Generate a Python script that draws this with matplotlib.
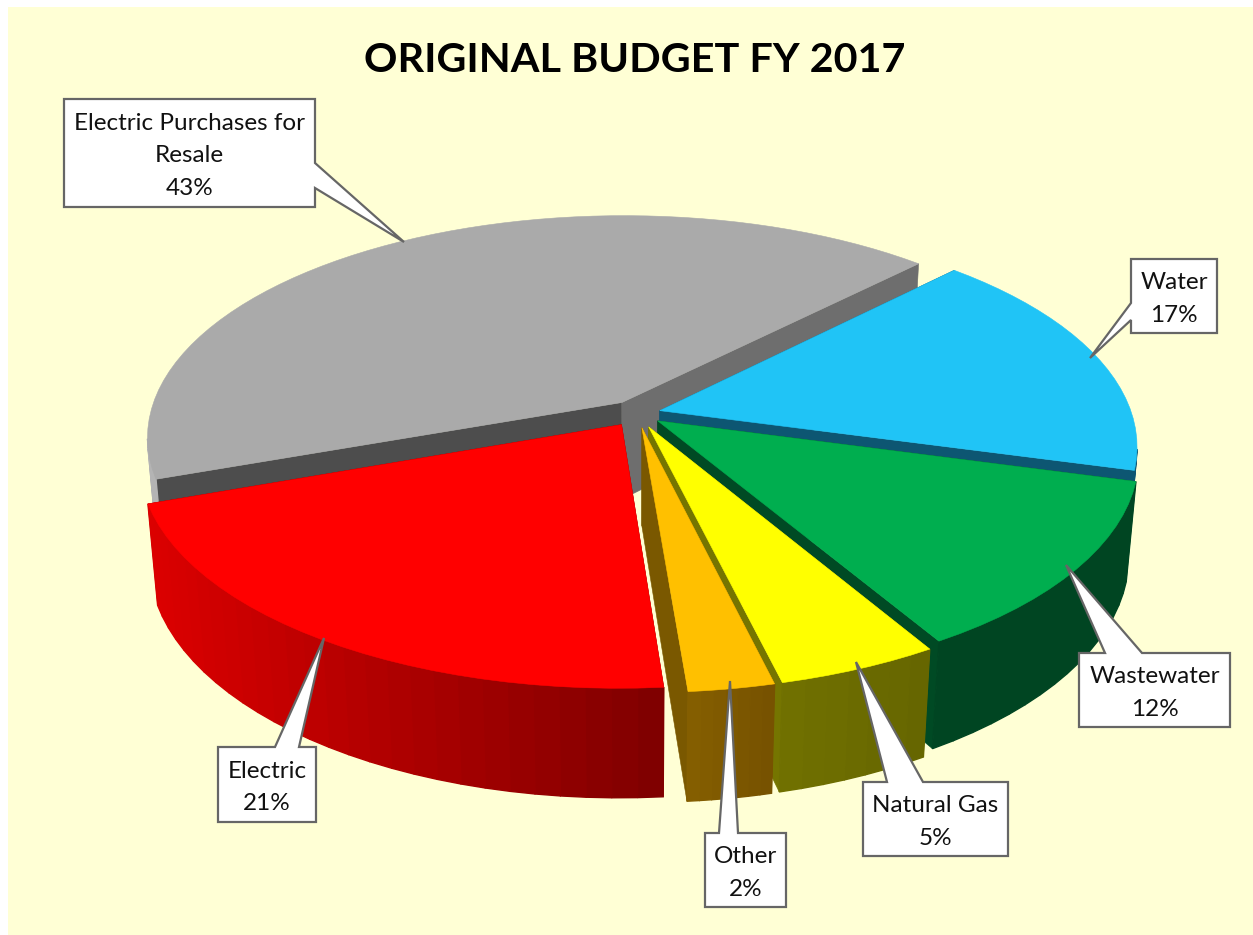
import numpy as np
import matplotlib
matplotlib.use('Agg')
import matplotlib.pyplot as plt
from matplotlib.patches import Polygon, Rectangle
from matplotlib.colors import to_rgb

title = 'ORIGINAL BUDGET FY 2017'
names = ['Water', 'Wastewater', 'Natural Gas', 'Other', 'Electric', 'Electric Purchases for\nResale']
values = [16.9, 12.3, 4.7, 2.49, 20.8, 42.81]
top_colors = ['#20C4F6', '#00AE4F', '#FFFF00', '#FFC000', '#FF0000', '#AAAAAA']
# outer wall colour at start and end of each arc
wall_start = ['#0D5672', '#004522', '#666600', '#775200', '#800000', '#B4B4B4']
wall_end = ['#0D5672', '#004522', '#727200', '#866000', '#DC0000', '#B4B4B4']
# wall under the first and under the last radial edge
edge_start = ['#0D5672', '#004A24', '#666600', '#7A5800', '#800000', '#4D4D4D']
edge_end = ['#0D5672', '#004A24', '#757500', '#7A5800', '#800000', '#6E6E6E']
explodes = [0.05, 0.055, 0.065, 0.065, 0.06, 0.06]

# callouts: box (x0, y0, x1, y1), pointer base on the box, pointer tip
boxes = [(1131, 259, 1217, 333), (1079, 653, 1230, 727), (863, 782, 1008, 856),
         (705, 833, 786, 907), (218, 747, 316, 822), (64, 99, 315, 207)]
bases = [((1131, 303), (1131, 320)), ((1105, 653), (1142, 653)), ((887, 782), (923, 782)),
         ((719, 833), (738, 833)), ((275, 747), (299, 747)), ((315, 163), (315, 188))]
tips = [(1090, 358), (1066, 565), (856, 662), (730, 681), (324, 638), (404, 242)]

start_angle = -45.6

CX, CY = 637, 413.5
RX, RY = 472, 219
K, M, D = 0.155, 0.019, 99


def project(x, y, z):
    w = 1 - K * y + M * z
    return np.column_stack((CX + RX * x / w, CY + (RY * y + D * z) / w))


def mix(c1, c2, f):
    a, b = np.array(to_rgb(c1)), np.array(to_rgb(c2))
    return tuple(a + (b - a) * f)


def draw_poly(ax, pts, color, z, lw=0.4):
    ax.add_patch(Polygon(pts, closed=True, facecolor=color, edgecolor=color, linewidth=lw, zorder=z))


def draw_slice(ax, i, a0, a1, z):
    mid = np.radians((a0 + a1) / 2)
    ox, oy = explodes[i] * np.cos(mid), explodes[i] * np.sin(mid)
    t = np.radians(np.linspace(a0, a1, max(int((a1 - a0) / 2.5), 8)))
    x = ox + np.cos(t)
    y = oy + np.sin(t)
    top = project(x, y, 0)
    bottom = project(x, y, 1)
    apex_top = project(np.array([ox]), np.array([oy]), 0)
    apex_bottom = project(np.array([ox]), np.array([oy]), 1)

    # radial walls first, the top face hides whichever one is turned away
    draw_poly(ax, np.vstack((apex_top, top[0], bottom[0], apex_bottom)), edge_start[i], z)
    draw_poly(ax, np.vstack((apex_top, top[-1], bottom[-1], apex_bottom)), edge_end[i], z)

    # outer wall in narrow strips for the shading, only the part facing the viewer
    n = len(t) - 1
    for j in range(n):
        if top[j + 1][0] >= top[j][0]:
            continue
        f = (top[j][0] - top[0][0]) / (top[-1][0] - top[0][0])
        col = mix(wall_start[i], wall_end[i], np.clip(f, 0, 1))
        draw_poly(ax, [top[j], top[j + 1], bottom[j + 1], bottom[j]], col, z + 0.1, lw=1.0)

    draw_poly(ax, np.vstack((apex_top, top)), top_colors[i], z + 0.2)


def callout(ax, box, base, tip, text):
    x0, y0, x1, y1 = box
    (bx0, by0), (bx1, by1) = base
    if bx0 == bx1 and bx0 == x0:
        pts = [(x0, y0), (x1, y0), (x1, y1), (x0, y1), (bx1, by1), tip, (bx0, by0)]
    elif bx0 == bx1:
        pts = [(x0, y0), (x1, y0), (bx0, by0), tip, (bx1, by1), (x1, y1), (x0, y1)]
    else:
        pts = [(x0, y0), (bx0, by0), tip, (bx1, by1), (x1, y0), (x1, y1), (x0, y1)]
    ax.add_patch(Polygon(pts, closed=True, facecolor='white', edgecolor='#666666', linewidth=1.6,
                         joinstyle='miter', zorder=50))
    ax.text((x0 + x1) / 2, (y0 + y1) / 2 + 3, text, ha='center', va='center', fontsize=17.5,
            color='#111111', linespacing=1.68, zorder=51)


plt.rcParams['font.family'] = ['Lato', 'DejaVu Sans']
fig = plt.figure(figsize=(12.53, 9.35), dpi=100, facecolor='white')
ax = fig.add_axes([0, 0, 1, 1])
ax.set_xlim(0, 1253)
ax.set_ylim(935, 0)
ax.axis('off')
ax.add_patch(Rectangle((8, 7), 1245, 928, facecolor='#FFFFD5', edgecolor='none', zorder=0))

ax.text(634.5, 60, title, ha='center', va='center', fontsize=29.8, fontweight='bold', color='black')

# slices run clockwise on screen from the start angle
sweep = np.array(values) / sum(values) * 360
ends = start_angle + np.cumsum(sweep)
starts = ends - sweep
draw_order = [5, 0, 1, 2, 3, 4]
for n, i in enumerate(draw_order):
    draw_slice(ax, i, starts[i], ends[i], 5 + n)

for i in range(len(names)):
    callout(ax, boxes[i], bases[i], tips[i], '%s\n%.0f%%' % (names[i], values[i]))

fig.savefig('out.png', dpi=100)
